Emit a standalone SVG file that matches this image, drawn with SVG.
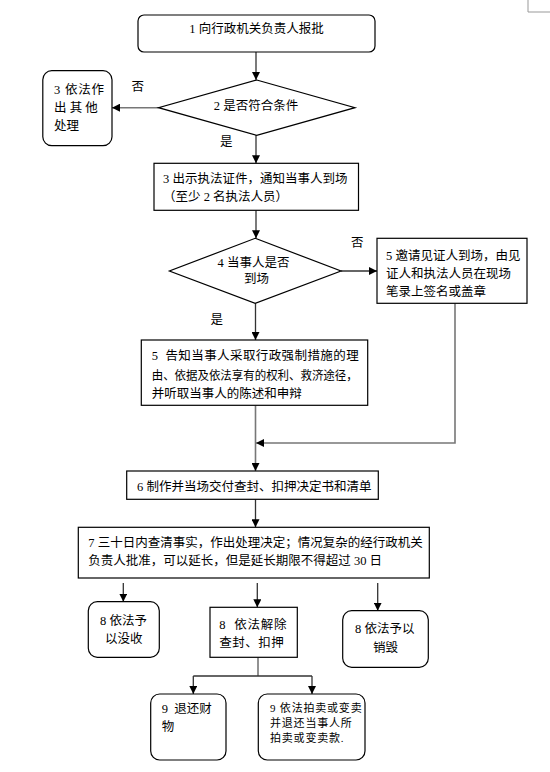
<svg xmlns="http://www.w3.org/2000/svg" width="550" height="772" viewBox="0 0 550 772">
<style>
text{font-family:"Liberation Serif","Noto Sans CJK SC",serif;font-size:12.5px;fill:#000}
.box{fill:#fff;stroke:#000;stroke-width:1.2}
.ln{fill:none;stroke:#333;stroke-width:1.3}
.gl{fill:none;stroke:#777;stroke-width:1.6}
.sm{font-size:11px;letter-spacing:0.8px}
</style>
<defs>
<marker id="ah" viewBox="0 0 10 10" refX="10" refY="5" markerWidth="8" markerHeight="8" markerUnits="userSpaceOnUse" orient="auto">
<path d="M0,0 L10,5 L0,10 z" fill="#000"/>
</marker>
</defs>
<g id="pagemark"><path d="M528,0 V12 H550" fill="none" stroke="#999" stroke-width="1"/></g>
<g id="connectors">
<path class="ln" d="M256,52 V80" marker-end="url(#ah)"/>
<path class="gl" d="M158.5,107.7 H112" marker-end="url(#ah)"/>
<path class="ln" d="M256,135.3 V163.3" marker-end="url(#ah)"/>
<path class="ln" d="M256,210.3 V238.3" marker-end="url(#ah)"/>
<path class="ln" d="M341,271 H377" marker-end="url(#ah)"/>
<path class="ln" d="M255.5,303.3 V340" marker-end="url(#ah)"/>
<path class="gl" d="M455,303.3 V443 H256" marker-end="url(#ah)"/>
<path class="gl" d="M255.5,405.3 V471" marker-end="url(#ah)"/>
<path class="ln" d="M255.5,499.3 V527.3" marker-end="url(#ah)"/>
<path class="ln" d="M123.3,583 V601.7" marker-end="url(#ah)"/>
<path class="ln" d="M257.3,583 V607.3" marker-end="url(#ah)"/>
<path class="ln" d="M377.7,583 V610.7" marker-end="url(#ah)"/>
<path class="gl" d="M258,657.3 V676"/>
<path class="ln" d="M193.3,676 H312"/>
<path class="ln" d="M193.3,676 V694" marker-end="url(#ah)"/>
<path class="ln" d="M312,676 V694" marker-end="url(#ah)"/>
</g>
<g id="n1"><rect class="box" x="138" y="15" width="237" height="37" rx="6"/><text x="256.5" y="33" text-anchor="middle">1 向行政机关负责人报批</text></g>
<g id="n2"><path class="box" d="M256.7,80 L355,107.7 L256.7,135.3 L158.5,107.7 z"/><text x="256" y="110" text-anchor="middle">2 是否符合条件</text></g>
<g id="n3a"><rect class="box" x="42.8" y="70.7" width="69.2" height="75" rx="9"/>
<text x="54" y="94" letter-spacing="0.8">3 依法作</text><text x="54" y="112" xml:space="preserve">出 其 他</text><text x="54" y="129.5">处理</text></g>
<text x="131.5" y="91">否</text>
<text x="220" y="146">是</text>
<g id="n3"><rect class="box" x="154" y="163.3" width="204.5" height="47"/>
<text x="163" y="182.5">3 出示执法证件，通知当事人到场</text><text x="163" y="201">（至少 2 名执法人员）</text></g>
<g id="n4"><path class="box" d="M255.2,238.3 L341,271 L255.2,303.3 L169.4,271 z"/>
<text x="217.5" y="267">4 当事人是否</text><text x="244" y="283">到场</text></g>
<text x="351" y="247">否</text>
<text x="210.5" y="324">是</text>
<g id="n5b"><rect class="box" x="377" y="238.3" width="150" height="65"/>
<text x="386" y="259.5">5 邀请见证人到场，由见</text><text x="386" y="277.5">证人和执法人员在现场</text><text x="386" y="295.5">笔录上签名或盖章</text></g>
<g id="n5"><rect class="box" x="141.3" y="340" width="226.4" height="65.3"/>
<text x="151.7" y="360" xml:space="preserve" textLength="207" lengthAdjust="spacing">5  告知当事人采取行政强制措施的理</text><text x="151.7" y="380" textLength="206" lengthAdjust="spacingAndGlyphs">由、依据及依法享有的权利、救济途径，</text><text x="151.7" y="398">并听取当事人的陈述和申辩</text></g>
<g id="n6"><rect class="box" x="126.7" y="471" width="251.6" height="28.3"/>
<text x="137" y="491">6 制作并当场交付查封、扣押决定书和清单</text></g>
<g id="n7"><rect class="box" x="78.3" y="527.3" width="351" height="50.7"/>
<text x="88.3" y="547">7 三十日内查清事实，作出处理决定；情况复杂的经行政机关</text><text x="88.3" y="565">负责人批准，可以延长，但是延长期限不得超过 30 日</text></g>
<g id="n8a"><rect class="box" x="88.3" y="601.7" width="71" height="55.6" rx="9"/>
<text x="100" y="625">8 依法予</text><text x="105" y="643">以没收</text></g>
<g id="n8b"><rect class="box" x="210" y="607.3" width="87.3" height="50"/>
<text x="219.3" y="629" xml:space="preserve" letter-spacing="0.8">8  依法解除</text><text x="219.3" y="647" letter-spacing="0.5">查封、扣押</text></g>
<g id="n8c"><rect class="box" x="342.7" y="610.7" width="85.6" height="56.6" rx="9"/>
<text x="355" y="633">8 依法予以</text><text x="373" y="652">销毁</text></g>
<g id="n9a"><rect class="box" x="150.7" y="694" width="75.3" height="66" rx="9"/>
<text x="161.7" y="713" xml:space="preserve">9  退还财</text><text x="161.7" y="731">物</text></g>
<g id="n9b"><rect class="box" x="258.3" y="694" width="106.7" height="66" rx="9"/>
<text class="sm" x="270" y="712">9 依法拍卖或变卖</text><text class="sm" x="270" y="727">并退还当事人所</text><text class="sm" x="270" y="742">拍卖或变卖款.</text></g>
</svg>
